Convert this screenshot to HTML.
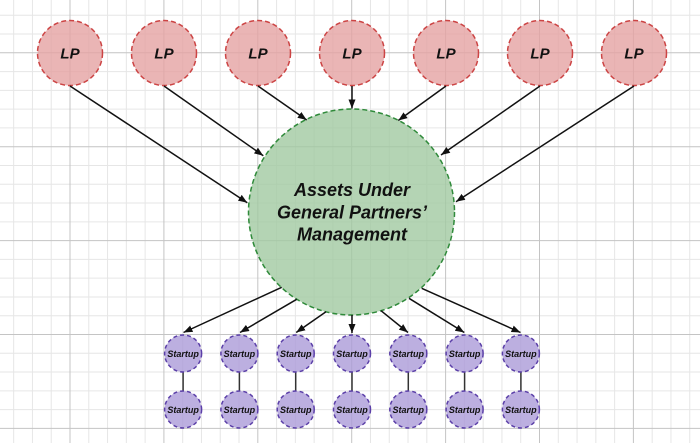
<!DOCTYPE html>
<html><head><meta charset="utf-8"><style>
html,body{margin:0;padding:0;background:#fff;}
svg{display:block;}
text{font-family:"Liberation Sans",Arial,sans-serif;font-weight:bold;font-style:italic;fill:#111;text-anchor:middle;}
</style></head><body>
<svg width="700" height="443" viewBox="0 0 700 443" xmlns="http://www.w3.org/2000/svg">
<defs>
<marker id="ah" markerUnits="userSpaceOnUse" markerWidth="10" markerHeight="8" refX="9" refY="3.5" orient="auto">
<path d="M0,0 L9,3.5 L0,7 Z" fill="#111"/>
</marker>
</defs>
<rect width="700" height="443" fill="#fff"/>
<path stroke="#e6e6e6" stroke-width="1" fill="none" d="
M13.66 0V443 M32.44 0V443 M51.22 0V443 M88.78 0V443 M107.56 0V443 M126.34 0V443 M145.12 0V443
M182.68 0V443 M201.46 0V443 M220.24 0V443 M239.02 0V443 M276.58 0V443 M295.36 0V443 M314.14 0V443 M332.92 0V443
M370.48 0V443 M389.26 0V443 M408.04 0V443 M426.82 0V443 M464.38 0V443 M483.16 0V443 M501.94 0V443 M520.72 0V443
M558.28 0V443 M577.06 0V443 M595.84 0V443 M614.62 0V443 M652.18 0V443 M670.96 0V443 M689.74 0V443
M0 15.24H700 M0 34.02H700 M0 71.58H700 M0 90.36H700 M0 109.14H700 M0 127.92H700
M0 165.48H700 M0 184.26H700 M0 203.04H700 M0 221.82H700 M0 259.38H700 M0 278.16H700 M0 296.94H700 M0 315.72H700
M0 353.28H700 M0 372.06H700 M0 390.84H700 M0 409.62H700"/>
<path stroke="#c4c4c4" stroke-width="1" fill="none" d="
M70 0V443 M163.9 0V443 M257.8 0V443 M351.7 0V443 M445.6 0V443 M539.5 0V443 M633.4 0V443
M0 52.8H700 M0 146.7H700 M0 240.6H700 M0 334.5H700 M0 428.4H700"/>

<!-- LP circles -->
<g fill="#e5a3a3" fill-opacity="0.8" stroke="#cc4444" stroke-width="1.5" stroke-dasharray="5 3">
<circle cx="70" cy="53" r="32.5"/>
<circle cx="164" cy="53" r="32.5"/>
<circle cx="258" cy="53" r="32.5"/>
<circle cx="352" cy="53" r="32.5"/>
<circle cx="446" cy="53" r="32.5"/>
<circle cx="540" cy="53" r="32.5"/>
<circle cx="634" cy="53" r="32.5"/>
</g>
<g font-size="15">
<text x="70" y="58.5">LP</text>
<text x="164" y="58.5">LP</text>
<text x="258" y="58.5">LP</text>
<text x="352" y="58.5">LP</text>
<text x="446" y="58.5">LP</text>
<text x="540" y="58.5">LP</text>
<text x="634" y="58.5">LP</text>
</g>

<!-- Central circle -->
<circle cx="351.5" cy="212" r="103" fill="#a1c9a1" fill-opacity="0.8" stroke="#2f8a3a" stroke-width="1.5" stroke-dasharray="5 3"/>
<g font-size="18">
<text x="352" y="196">Assets Under</text>
<text x="352" y="218.5">General Partners’</text>
<text x="352" y="240.5">Management</text>
</g>

<!-- LP arrows -->
<g stroke="#111" stroke-width="1.5" fill="none" marker-end="url(#ah)">
<line x1="70" y1="86" x2="247.3" y2="202.7"/>
<line x1="164" y1="86" x2="263.3" y2="155.7"/>
<line x1="258" y1="86" x2="306.7" y2="120"/>
<line x1="352" y1="86" x2="352" y2="108.5"/>
<line x1="446" y1="86" x2="398.3" y2="120.5"/>
<line x1="540" y1="86" x2="441" y2="155"/>
<line x1="634" y1="86" x2="456" y2="201.7"/>
</g>

<!-- Startup arrows -->
<g stroke="#111" stroke-width="1.5" fill="none" marker-end="url(#ah)">
<line x1="281.7" y1="287.3" x2="183.5" y2="332.5"/>
<line x1="296.7" y1="299.3" x2="240" y2="332.5"/>
<line x1="326" y1="311.7" x2="296.2" y2="332.5"/>
<line x1="352" y1="315" x2="352" y2="333"/>
<line x1="381" y1="310.7" x2="408" y2="332.5"/>
<line x1="409" y1="298.3" x2="464.3" y2="332.5"/>
<line x1="421.7" y1="288.3" x2="520.5" y2="332.5"/>
</g>

<!-- vertical connectors -->
<g stroke="#333" stroke-width="1.5">
<line x1="183.1" y1="372" x2="183.1" y2="391"/>
<line x1="239.4" y1="372" x2="239.4" y2="391"/>
<line x1="295.7" y1="372" x2="295.7" y2="391"/>
<line x1="352" y1="372" x2="352" y2="391"/>
<line x1="408.3" y1="372" x2="408.3" y2="391"/>
<line x1="464.6" y1="372" x2="464.6" y2="391"/>
<line x1="520.9" y1="372" x2="520.9" y2="391"/>
</g>

<!-- Startup circles -->
<g fill="#ab9bd8" fill-opacity="0.8" stroke="#5b3fa8" stroke-width="1.5" stroke-dasharray="4 3">
<circle cx="183.1" cy="353.5" r="18.5"/>
<circle cx="239.4" cy="353.5" r="18.5"/>
<circle cx="295.7" cy="353.5" r="18.5"/>
<circle cx="352" cy="353.5" r="18.5"/>
<circle cx="408.3" cy="353.5" r="18.5"/>
<circle cx="464.6" cy="353.5" r="18.5"/>
<circle cx="520.9" cy="353.5" r="18.5"/>
<circle cx="183.1" cy="409.5" r="18.5"/>
<circle cx="239.4" cy="409.5" r="18.5"/>
<circle cx="295.7" cy="409.5" r="18.5"/>
<circle cx="352" cy="409.5" r="18.5"/>
<circle cx="408.3" cy="409.5" r="18.5"/>
<circle cx="464.6" cy="409.5" r="18.5"/>
<circle cx="520.9" cy="409.5" r="18.5"/>
</g>
<g font-size="9">
<text x="183.1" y="356.8">Startup</text>
<text x="239.4" y="356.8">Startup</text>
<text x="295.7" y="356.8">Startup</text>
<text x="352" y="356.8">Startup</text>
<text x="408.3" y="356.8">Startup</text>
<text x="464.6" y="356.8">Startup</text>
<text x="520.9" y="356.8">Startup</text>
<text x="183.1" y="412.8">Startup</text>
<text x="239.4" y="412.8">Startup</text>
<text x="295.7" y="412.8">Startup</text>
<text x="352" y="412.8">Startup</text>
<text x="408.3" y="412.8">Startup</text>
<text x="464.6" y="412.8">Startup</text>
<text x="520.9" y="412.8">Startup</text>
</g>
</svg>
</body></html>
